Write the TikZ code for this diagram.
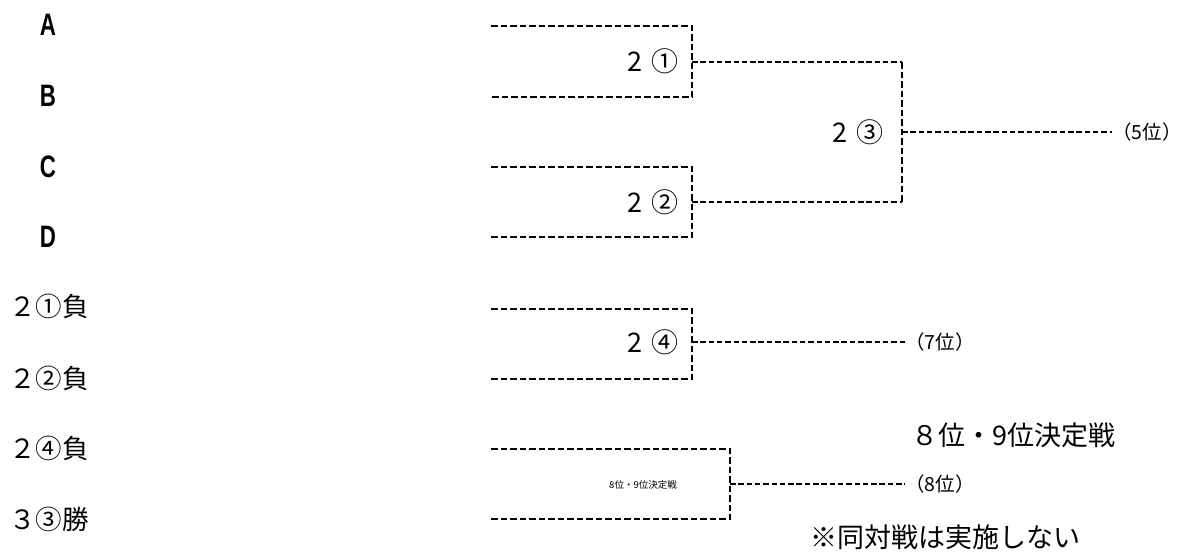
\documentclass[tikz,border=0pt]{standalone}
\usepackage{fontspec}
\setmainfont{Noto Sans CJK JP}
\newfontfamily\abfont[FakeStretch=0.72]{Liberation Sans}
\begin{document}
\begin{tikzpicture}[x=1pt,y=-1pt,
  br/.style={line width=2.8pt, dash pattern=on 6.5pt off 3pt},
  outl/.style={line width=2.2pt, dash pattern=on 5.5pt off 2.8pt},
  abc/.style={inner sep=0pt, font=\abfont\bfseries\fontsize{31}{31}\selectfont},
  jl/.style={inner sep=0pt, anchor=west, font=\fontsize{26.5}{26.5}\selectfont},
  ml/.style={inner sep=0pt, anchor=east, font=\fontsize{27}{27}\selectfont},
  pl/.style={inner sep=0pt, anchor=west, font=\fontsize{19.5}{19.5}\selectfont},
  note/.style={inner sep=0pt, anchor=west, font=\fontsize{27}{27}\selectfont}]
\useasboundingbox (0,0) rectangle (1186,552);
% left labels
\node[abc] (A) at (48,25) {A};
\node[abc] (B) at (48,96) {B};
\node[abc] (C) at (48,167) {C};
\node[abc] (D) at (48,237) {D};
\node[jl] (L1) at (9,306) {２①負};
\node[jl] (L2) at (9,378) {２②負};
\node[jl] (L3) at (9,448) {２④負};
\node[jl] (L4) at (9,519) {３③勝};
% match 1
\coordinate (a1) at (491,26); \coordinate (a2) at (692,26);
\coordinate (a3) at (692,97); \coordinate (a4) at (491,97);
\coordinate (a5) at (692,62);
\draw[br] (a1) -- (a2) -- (a3) -- (a4);
\node[ml] (m1) at (679,61) {2\hspace{0.35em}①};
% match 2
\coordinate (b1) at (491,167); \coordinate (b2) at (692,167);
\coordinate (b3) at (692,237); \coordinate (b4) at (491,237);
\coordinate (b5) at (692,202);
\draw[br] (b1) -- (b2) -- (b3) -- (b4);
\node[ml] (m2) at (679,202) {2\hspace{0.35em}②};
% match 3
\coordinate (c1) at (902,62); \coordinate (c2) at (902,202);
\coordinate (c3) at (902,132);
\draw[outl] (a5) -- (c1);
\draw[outl] (b5) -- (c2);
\draw[br] (c1) -- (c2);
\node[ml] (m3) at (884,132) {2\hspace{0.35em}③};
\node[pl] (p5) at (1112,132) {（5位）};
\draw[outl] (c3) -- (p5.west);
% match 4
\coordinate (d1) at (491,309); \coordinate (d2) at (692,309);
\coordinate (d3) at (692,379); \coordinate (d4) at (491,379);
\coordinate (d5) at (692,342);
\draw[br] (d1) -- (d2) -- (d3) -- (d4);
\node[ml] (m4) at (679,342) {2\hspace{0.35em}④};
\node[pl] (p7) at (905,342) {（7位）};
\draw[outl] (d5) -- (p7.west);
% match 5
\coordinate (e1) at (491,449); \coordinate (e2) at (730,449);
\coordinate (e3) at (730,519); \coordinate (e4) at (491,519);
\coordinate (e5) at (730,484);
\draw[br] (e1) -- (e2) -- (e3) -- (e4);
\node[inner sep=0pt, font=\fontsize{9.5}{9.5}\selectfont] (m5) at (643,485) {8位・9位決定戦};
\node[pl] (p8) at (905,484) {（8位）};
\draw[outl] (e5) -- (p8.west);
% notes
\node[note] (t1) at (911,435) {８位・9位決定戦};
\node[note] (t2) at (810,537) {※同対戦は実施しない};
\end{tikzpicture}
\end{document}
